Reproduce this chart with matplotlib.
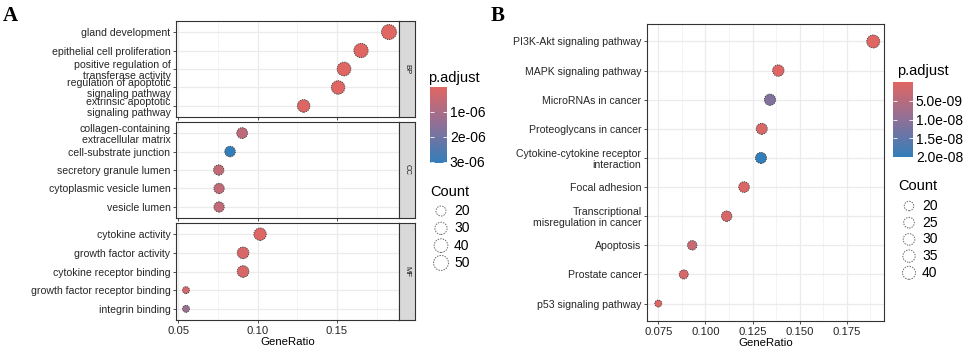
import numpy as np
import matplotlib
matplotlib.use('Agg')
import matplotlib.pyplot as plt
from matplotlib.colors import LinearSegmentedColormap, Normalize
from matplotlib.cm import ScalarMappable

plt.rcParams['font.family'] = ['Liberation Sans', 'DejaVu Sans']

# ---- panel A: GO enrichment (BP / CC / MF) ----
bp_terms = ["gland development", "epithelial cell proliferation",
            "positive regulation of\ntransferase activity",
            "regulation of apoptotic\nsignaling pathway",
            "extrinsic apoptotic\nsignaling pathway"]
bp_ratio = [0.1827, 0.1651, 0.1544, 0.1507, 0.1290]
bp_count = [50, 44, 40, 38, 32]
bp_padj = [2.0e-10, 3.5e-9, 1.2e-8, 2.1e-8, 6.0e-8]

cc_terms = ["collagen-containing\nextracellular matrix", "cell-substrate junction",
            "secretory granule lumen", "cytoplasmic vesicle lumen", "vesicle lumen"]
cc_ratio = [0.0903, 0.0827, 0.0756, 0.0758, 0.0758]
cc_count = [23, 22, 21, 21, 21]
cc_padj = [6.5e-7, 3.05e-6, 5.5e-7, 5.5e-7, 5.5e-7]

mf_terms = ["cytokine activity", "growth factor activity", "cytokine receptor binding",
            "growth factor receptor binding", "integrin binding"]
mf_ratio = [0.1016, 0.0909, 0.0909, 0.0550, 0.0550]
mf_count = [31, 27, 27, 15, 15]
mf_padj = [4.0e-8, 1.5e-7, 1.5e-7, 2.0e-7, 1.3e-6]

a_xticks = [0.05, 0.10, 0.15]
a_xlabels = ["0.05", "0.10", "0.15"]
a_cbar_ticks = [1e-6, 2e-6, 3e-6]
a_cbar_labels = ["1e-06", "2e-06", "3e-06"]
a_count_legend = [20, 30, 40, 50]

# ---- panel B: KEGG ----
kegg_terms = ["PI3K-Akt signaling pathway", "MAPK signaling pathway", "MicroRNAs in cancer",
              "Proteoglycans in cancer", "Cytokine-cytokine receptor\ninteraction",
              "Focal adhesion", "Transcriptional\nmisregulation in cancer", "Apoptosis",
              "Prostate cancer", "p53 signaling pathway"]
kegg_ratio = [0.1891, 0.1387, 0.1343, 0.1299, 0.1295, 0.1205, 0.1113, 0.0930, 0.0885, 0.0750]
kegg_count = [40, 29, 28, 27, 27, 25, 24, 20, 19, 16]
kegg_padj = [1e-12, 2e-10, 1.15e-8, 1e-9, 2.0e-8, 5e-10, 1e-9, 3e-9, 1e-9, 1e-10]

b_xticks = [0.075, 0.100, 0.125, 0.150, 0.175]
b_xlabels = ["0.075", "0.100", "0.125", "0.150", "0.175"]
b_cbar_ticks = [5e-9, 1e-8, 1.5e-8, 2e-8]
b_cbar_labels = ["5.0e-09", "1.0e-08", "1.5e-08", "2.0e-08"]
b_count_legend = [20, 25, 30, 35, 40]

W, H = 969, 349
cmap = LinearSegmentedColormap.from_list('padj', ['#e06663', '#8e7098', '#327eba'])
txt = '#262626'
grid = '#ebebeb'


def px(x, y, w, h):
    # pixel box (top-left origin) -> figure fraction
    return [x / W, 1 - (y + h) / H, w / W, h / H]


class SizeScale:
    # ggplot-like area scale: diameter grows with sqrt of rescaled count
    def __init__(self, cmin, cmax, dmin, dmax):
        self.cmin, self.cmax, self.dmin, self.dmax = cmin, cmax, dmin, dmax

    def __call__(self, count):
        c = np.asarray(count, dtype=float)
        f = np.clip((c - self.cmin) / (self.cmax - self.cmin), 0, 1)
        d = self.dmin + (self.dmax - self.dmin) * np.sqrt(f)
        return (d * 0.72) ** 2


def dot_panel(ax, terms, ratio, count, padj, norm, xlim, xticks, xlabels, size, show_x):
    n = len(terms)
    y = np.arange(n)
    ax.set_facecolor('white')
    ax.scatter(ratio, y, s=size(count), c=padj, cmap=cmap, norm=norm,
               edgecolors='#3a3a3a', linewidths=0.6, linestyles=(0, (1.5, 1.2)), zorder=3)
    ax.set_ylim(n - 0.4, -0.6)
    ax.set_xlim(*xlim)
    ax.set_yticks(y)
    ax.set_yticklabels(terms, fontsize=7.6, color=txt, linespacing=1.08)
    ax.set_xticks(xticks)
    step = xticks[1] - xticks[0]
    minor = [t + step / 2 for t in [xticks[0] - step] + list(xticks)]
    ax.set_xticks([m for m in minor if xlim[0] < m < xlim[1]], minor=True)
    ax.grid(True, which='major', color=grid, lw=0.9, zorder=0)
    ax.grid(True, which='minor', axis='x', color='#f2f2f2', lw=0.6, zorder=0)
    ax.set_axisbelow(True)
    for s in ax.spines.values():
        s.set_color('#333333')
        s.set_linewidth(0.8)
    ax.tick_params(axis='both', which='major', length=2.5, width=0.6, color='#333333', pad=1.5)
    ax.tick_params(axis='x', which='minor', length=0)
    if show_x:
        ax.set_xticklabels(xlabels, fontsize=8.1, color=txt)
        ax.set_xlabel('GeneRatio', fontsize=8.2, color='black', labelpad=1)
    else:
        ax.set_xticklabels([])


fig = plt.figure(figsize=(W / 100, H / 100), dpi=100)
fig.patch.set_facecolor('white')

# panel A
all_a = bp_count + cc_count + mf_count
size_a = SizeScale(min(all_a), max(all_a), 7, 15)
norm_a = Normalize(vmin=0, vmax=3.05e-6)
a_xlim = (0.0487, 0.189)
facets = [(bp_terms, bp_ratio, bp_count, bp_padj, 'BP', 21, 96),
          (cc_terms, cc_ratio, cc_count, cc_padj, 'CC', 122, 96),
          (mf_terms, mf_ratio, mf_count, mf_padj, 'MF', 223, 97)]
for i, (terms, ratio, count, padj, lab, top, h) in enumerate(facets):
    ax = fig.add_axes(px(176, top, 223, h))
    dot_panel(ax, terms, ratio, count, padj, norm_a, a_xlim, a_xticks, a_xlabels, size_a, i == 2)
    sax = fig.add_axes(px(399, top, 16, h))
    sax.set_facecolor('#d9d9d9')
    sax.set_xticks([])
    sax.set_yticks([])
    for s in sax.spines.values():
        s.set_color('#333333')
        s.set_linewidth(0.8)
    sax.text(0.5, 0.5, lab, rotation=270, ha='center', va='center', fontsize=5.5,
             color='#1a1a1a', transform=sax.transAxes)

# panel B
size_b = SizeScale(min(kegg_count), max(kegg_count), 7, 13)
norm_b = Normalize(vmin=0, vmax=2.0e-8)
axb = fig.add_axes(px(647, 24, 237, 297))
dot_panel(axb, kegg_terms, kegg_ratio, kegg_count, kegg_padj, norm_b, (0.069, 0.1948),
          b_xticks, b_xlabels, size_b, True)


def colorbar(box, norm, ticks, labels):
    cax = fig.add_axes(px(*box))
    cb = fig.colorbar(ScalarMappable(norm=norm, cmap=cmap), cax=cax)
    cb.outline.set_visible(False)
    cax.invert_yaxis()
    cb.set_ticks(ticks)
    cb.set_ticklabels(labels)
    cax.tick_params(axis='y', which='both', direction='in', length=3, width=0.6,
                    color='white', left=True, right=True, labelsize=10, labelcolor='black', pad=2)
    cax.minorticks_off()


colorbar((430, 87, 17, 76), norm_a, a_cbar_ticks, a_cbar_labels)
colorbar((893, 82, 20, 75), norm_b, b_cbar_ticks, b_cbar_labels)

# overlay for legend titles, size legends and panel letters
ov = fig.add_axes([0, 0, 1, 1], zorder=10)
ov.set_xlim(0, W)
ov.set_ylim(H, 0)
ov.axis('off')
ov.patch.set_alpha(0)

ov.text(428, 78, 'p.adjust', fontsize=10.5, va='center', ha='left', color='black')
ov.text(897, 71, 'p.adjust', fontsize=10.5, va='center', ha='left', color='black')
ov.text(430, 192, 'Count', fontsize=10.5, va='center', ha='left', color='black')
ov.text(898, 186, 'Count', fontsize=10.5, va='center', ha='left', color='black')


def size_legend(values, x0, y0, step, size):
    for k, v in enumerate(values):
        yy = y0 + k * step
        ov.scatter([x0], [yy], s=size(v), facecolors='none', edgecolors='#6a6a6a',
                   linewidths=0.7, linestyles=(0, (1.5, 1.2)))
        ov.text(x0 + 13, yy, str(v), fontsize=10, va='center', ha='left', color='black')


size_legend(a_count_legend, 441, 211, 17.3, size_a)
size_legend(b_count_legend, 909, 206, 16.7, size_b)

ov.text(3, 16, 'A', fontsize=15, fontweight='bold', family='Liberation Serif', va='center', ha='left')
ov.text(491, 16, 'B', fontsize=15, fontweight='bold', family='Liberation Serif', va='center', ha='left')

fig.savefig('out.png', dpi=100, facecolor='white')
